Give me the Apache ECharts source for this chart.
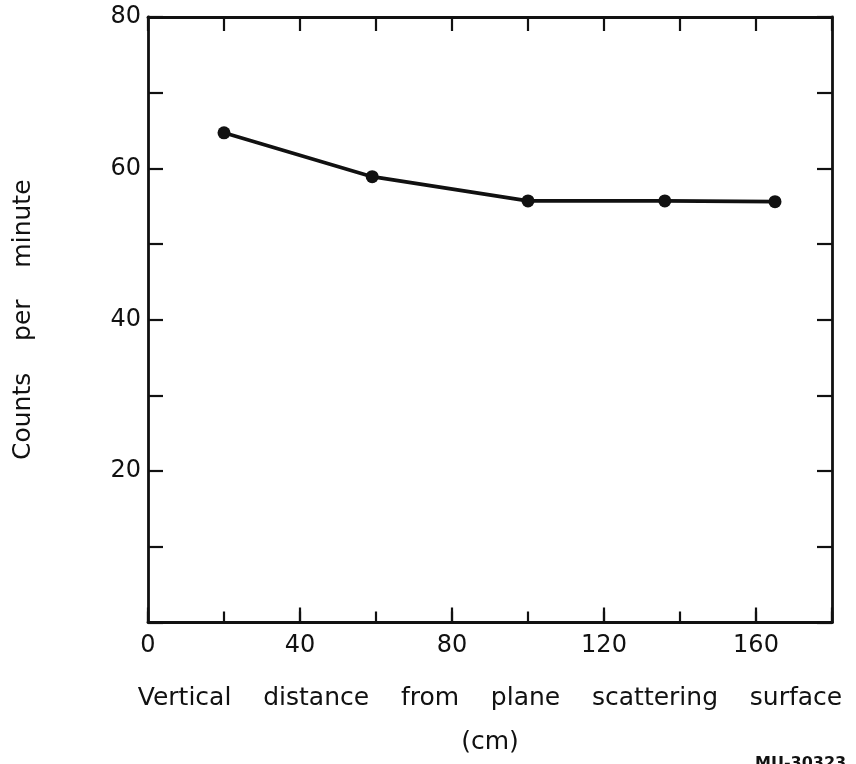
<!DOCTYPE html>
<html>
<head>
<meta charset="utf-8">
<script src="https://cdn.jsdelivr.net/npm/echarts@6/dist/echarts.min.js"></script>
<style>
html,body{margin:0;padding:0;background:#fff;}
#chart{width:856px;height:764px;}
</style>
</head>
<body>
<div id="chart"></div>
<script>
// Data
const distances = [20, 59, 100, 136, 165];          // cm
const counts = [64.7, 58.9, 55.7, 55.7, 55.6];       // counts per minute
const xTickLabels = [0, 40, 80, 120, 160];
const yTickLabels = [20, 40, 60, 80];
const xTitle = 'Vertical    distance    from    plane    scattering    surface';
const xUnit = '(cm)';
const yTitle = 'Counts    per    minute';
const figId = 'MU-30323';

const FONT = '"DejaVu Sans", sans-serif';
const INK = '#111';

const chart = echarts.init(document.getElementById('chart'), null, {renderer: 'canvas'});
const points = distances.map((d, i) => [d, counts[i]]);

const lineStyle = {color: INK, width: 2.8};

chart.setOption({
  backgroundColor: '#fff',
  animation: false,
  grid: {left: 148, right: 24, top: 17, bottom: 141.5, containLabel: false, outerBoundsMode: 'none'},
  xAxis: [
    {
      type: 'value', position: 'bottom', min: 0, max: 180, interval: 20,
      axisLine: {show: true, onZero: false, lineStyle: lineStyle},
      axisTick: {show: true, inside: true, length: 11, lineStyle: {color: INK, width: 2.2}},
      splitLine: {show: false},
      axisLabel: {
        margin: 11, color: INK, fontFamily: FONT, fontSize: 24,
        formatter: v => xTickLabels.includes(v) ? String(v) : ''
      },
      name: xTitle + '\n' + xUnit,
      nameLocation: 'middle', nameGap: 54,
      nameTextStyle: {color: INK, fontFamily: FONT, fontSize: 25, lineHeight: 44, verticalAlign: 'top'}
    },
    {
      type: 'value', position: 'bottom', min: 0, max: 180, interval: 40,
      axisLine: {show: false, onZero: false},
      axisTick: {show: true, inside: true, length: 15, lineStyle: {color: INK, width: 2.2}},
      splitLine: {show: false},
      axisLabel: {show: false}
    },
    {
      type: 'value', position: 'top', min: 0, max: 180, interval: 20,
      axisLine: {show: true, onZero: false, lineStyle: lineStyle},
      axisTick: {show: true, inside: true, length: 14, lineStyle: {color: INK, width: 2.2}},
      splitLine: {show: false},
      axisLabel: {show: false}
    }
  ],
  yAxis: [
    {
      type: 'value', position: 'left', min: 0, max: 80, interval: 10,
      axisLine: {show: true, onZero: false, lineStyle: lineStyle},
      axisTick: {show: true, inside: true, length: 15, lineStyle: {color: INK, width: 2.2}},
      splitLine: {show: false},
      axisLabel: {
        margin: 7, color: INK, fontFamily: FONT, fontSize: 24,
        formatter: v => yTickLabels.includes(v) ? String(v) : ''
      },
      name: yTitle, nameLocation: 'middle', nameGap: 112, nameRotate: 90,
      nameTextStyle: {color: INK, fontFamily: FONT, fontSize: 25}
    },
    {
      type: 'value', position: 'right', min: 0, max: 80, interval: 10,
      axisLine: {show: true, onZero: false, lineStyle: lineStyle},
      axisTick: {show: true, inside: true, length: 15, lineStyle: {color: INK, width: 2.2}},
      splitLine: {show: false},
      axisLabel: {show: false}
    }
  ],
  series: [{
    type: 'line', xAxisIndex: 0, yAxisIndex: 0,
    data: points,
    symbol: 'circle', symbolSize: 13,
    itemStyle: {color: INK},
    lineStyle: {color: INK, width: 3.8},
    z: 5
  }],
  graphic: [{
    type: 'text', left: 755, top: 756,
    style: {text: figId, fill: INK, font: 'bold 16px ' + FONT}
  }]
});
</script>
</body>
</html>
